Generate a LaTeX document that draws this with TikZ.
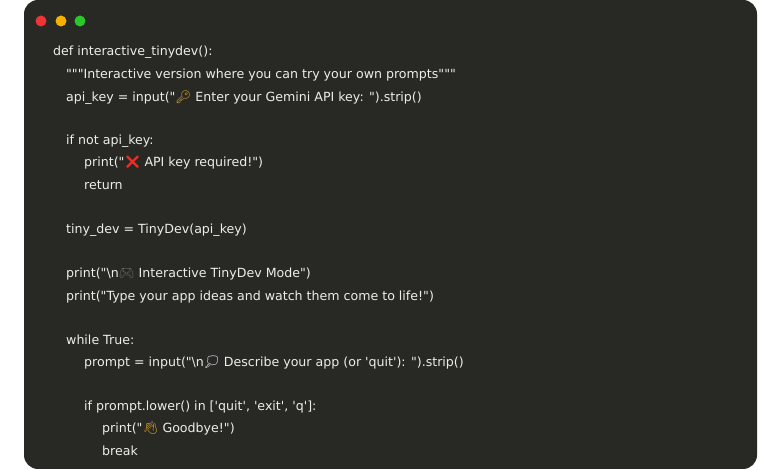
\documentclass[tikz,border=0pt]{standalone}
\usepackage{fontspec}
\newfontfamily\codefont{DejaVu Sans}
\newfontfamily\emo{Noto Emoji}
\definecolor{bgc}{HTML}{282825}
\definecolor{txt}{HTML}{EEEEE8}
\begin{document}
\begin{tikzpicture}[x=1pt,y=-1pt,
  code/.style={anchor=base west,inner sep=0pt,text=txt,font=\codefont\fontsize{12.6}{14}\selectfont},
  dot/.style={circle,minimum size=11pt,inner sep=0pt}]
\useasboundingbox (0,0) rectangle (780,470);
\fill[white] (0,0) rectangle (780,470);
\fill[bgc,rounded corners=14pt] (24,0) rectangle (757,469);
\node[dot,fill={rgb,255:red,238;green,52;blue,52}] (r) at (41,21) {};
\node[dot,fill={rgb,255:red,245;green,176;blue,0}] (y) at (61,21) {};
\node[dot,fill={rgb,255:red,40;green,200;blue,40}] (g) at (80,21) {};
\node[code] (l1) at (53,56) {def interactive\_tinydev():};
\node[code] (l2) at (66,79) {"""Interactive version where you can try your own prompts"""};
\node[code] (l3) at (66,102) {api\_key = input("{\emo\textcolor[HTML]{E0A82E}{🔑}} Enter your Gemini API key: ").strip()};
\node[code] (l4) at (66,145) {if not api\_key:};
\node[code] (l5) at (84,167) {print("{\emo\textcolor[HTML]{E8302A}{❌}} API key required!")};
\node[code] (l6) at (84,190) {return};
\node[code] (l7) at (66,234) {tiny\_dev = TinyDev(api\_key)};
\node[code] (l8) at (66,278) {print("\textbackslash n{\emo\textcolor[HTML]{6A6A6A}{🎮}} Interactive TinyDev Mode")};
\node[code] (l9) at (66,301) {print("Type your app ideas and watch them come to life!")};
\node[code] (l10) at (66,345) {while True:};
\node[code] (l11) at (84,367) {prompt = input("\textbackslash n{\emo\textcolor{white}{💭}} Describe your app (or 'quit'): ").strip()};
\node[code] (l12) at (84,411) {if prompt.lower() in ['quit', 'exit', 'q']:};
\node[code] (l13) at (102,433) {print("{\emo\textcolor[HTML]{F2B630}{👋}} Goodbye!")};
\node[code] (l14) at (102,456) {break};
\end{tikzpicture}
\end{document}
